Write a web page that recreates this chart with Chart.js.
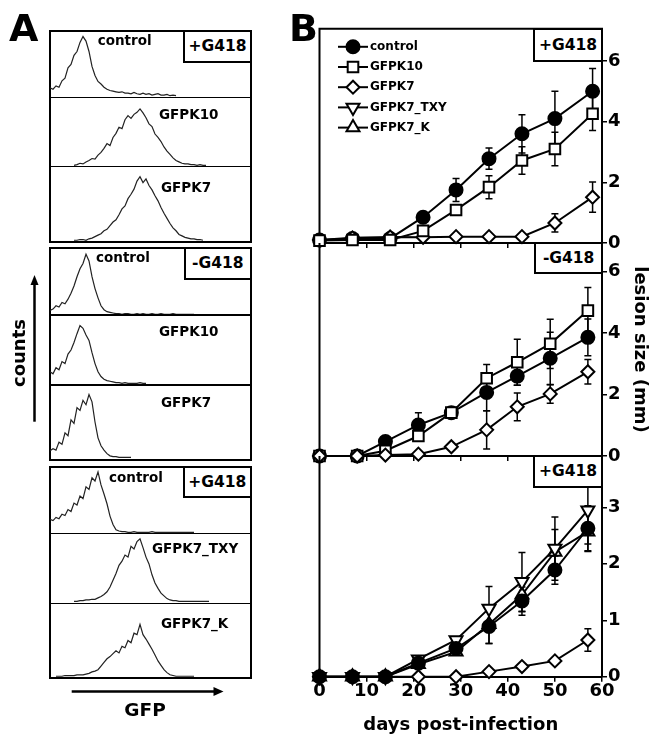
<!DOCTYPE html>
<html>
<head>
<meta charset="utf-8">
<title>GFP expression and lesion size</title>
<script src="https://cdn.jsdelivr.net/npm/chart.js@4.4.1/dist/chart.umd.min.js"></script>
<style>
  body { margin: 0; background: #fff; }
  #fig { position: relative; width: 650px; height: 736px; overflow: hidden; background: #fff;
         font-family: 'DejaVu Sans', sans-serif; font-weight: bold; color: #000; }
  #fig canvas { position: absolute; }
  .group { position: absolute; left: 49px; width: 203px; border: 2px solid #000; box-sizing: border-box; }
  .rule { position: absolute; left: 50px; width: 201px; height: 1.6px; background: #000; }
  .tag { position: absolute; box-sizing: border-box; border: 2px solid #000; background: #fff;
         display: flex; align-items: center; justify-content: center; font-size: 15.5px; }
  .txt { position: absolute; white-space: nowrap; line-height: 1; transform: translateY(-50%); }
  .hl { font-size: 13.5px; }
</style>
</head>
<body>
<div id="fig">
  <!-- Panel A : flow histograms -->
  <div class="group" style="top:29.5px;height:213px"></div>
  <div class="group" style="top:246.7px;height:214px"></div>
  <div class="group" style="top:466px;height:213px"></div>

  <canvas id="h11" width="201" height="65" style="left:50px;top:31.5px"></canvas>
  <canvas id="h12" width="201" height="68" style="left:50px;top:98px"></canvas>
  <canvas id="h13" width="201" height="73" style="left:50px;top:167.5px"></canvas>
  <canvas id="h21" width="201" height="66" style="left:50px;top:248.7px"></canvas>
  <canvas id="h22" width="201" height="68" style="left:50px;top:316px"></canvas>
  <canvas id="h23" width="201" height="72" style="left:50px;top:386px"></canvas>
  <canvas id="h31" width="201" height="65" style="left:50px;top:468px"></canvas>
  <canvas id="h32" width="201" height="68" style="left:50px;top:534.3px"></canvas>
  <canvas id="h33" width="201" height="73" style="left:50px;top:604.3px"></canvas>

  <div class="rule" style="top:96.5px"></div>
  <div class="rule" style="top:165.9px"></div>
  <div class="rule" style="top:314.2px"></div>
  <div class="rule" style="top:384.2px"></div>
  <div class="rule" style="top:532.5px"></div>
  <div class="rule" style="top:602.5px"></div>

  <div class="tag" style="left:183px;top:29.5px;width:69px;height:33px">+G418</div>
  <div class="tag" style="left:183.7px;top:246.7px;width:68.3px;height:33px">-G418</div>
  <div class="tag" style="left:182.7px;top:466px;width:69.3px;height:31.5px">+G418</div>

  <div class="txt hl" style="left:97.7px;top:41px">control</div>
  <div class="txt hl" style="left:159px;top:115.3px">GFPK10</div>
  <div class="txt hl" style="left:161px;top:187.7px">GFPK7</div>
  <div class="txt hl" style="left:96px;top:258px">control</div>
  <div class="txt hl" style="left:159px;top:332px">GFPK10</div>
  <div class="txt hl" style="left:161px;top:403px">GFPK7</div>
  <div class="txt hl" style="left:109px;top:478px">control</div>
  <div class="txt hl" style="left:152px;top:549px">GFPK7_TXY</div>
  <div class="txt hl" style="left:161px;top:623.7px">GFPK7_K</div>

  <svg style="position:absolute;left:0;top:0" width="650" height="736">
    <line x1="34.5" y1="421.7" x2="34.5" y2="283" stroke="#000" stroke-width="2.5"/>
    <polygon points="34.5,275 30.5,285 38.5,285" fill="#000"/>
    <line x1="71.7" y1="691.5" x2="215" y2="691.5" stroke="#000" stroke-width="2.5"/>
    <polygon points="223.5,691.5 213.5,687 213.5,696" fill="#000"/>
  </svg>
  <div class="txt" style="left:18.5px;top:352.7px;font-size:18px;transform:translate(-50%,-50%) rotate(-90deg)">counts</div>
  <div class="txt" style="left:145px;top:710px;font-size:18.5px;transform:translate(-50%,-50%)">GFP</div>
  <div class="txt" style="left:9px;top:28px;font-size:38px">A</div>

  <!-- Panel B : lesion size -->
  <canvas id="lesTop" width="350" height="255" style="left:300px;top:0"></canvas>
  <canvas id="lesMid" width="350" height="240" style="left:300px;top:228px"></canvas>
  <canvas id="lesBot" width="350" height="295" style="left:300px;top:441px"></canvas>

  <div class="tag" style="left:533.3px;top:27.8px;width:69.7px;height:34.2px">+G418</div>
  <div class="tag" style="left:534.3px;top:242px;width:68.7px;height:32.3px">-G418</div>
  <div class="tag" style="left:533.3px;top:455px;width:69.7px;height:32.7px">+G418</div>
  <div class="txt" style="left:289px;top:27.5px;font-size:38px">B</div>
</div>

<script>
// ── Panel A: GFP histograms (counts, % of panel height, one bin per 3 px) ──
const g1Control = [14,12,17,15,25,29,45,50,64,70,84,93,86,70,47,33,24,20,15,12,10,9,8,7,8,6,6,5,7,5,4,6,4,5,3,4,5,3,3,4,2,3,2];
const g1K10 = [null,null,null,null,null,null,null,null,1,2,4,3,6,8,11,10,16,20,26,33,30,42,48,57,55,68,74,70,76,79,84,78,71,62,58,47,42,36,28,22,17,12,8,6,4,3,3,2,2,1,2,1,1];
const g1K7 = [null,null,null,null,null,null,null,null,1,1,2,2,1,3,4,6,8,10,14,16,21,26,29,36,44,48,58,64,71,82,88,80,85,76,70,62,55,46,38,31,24,18,14,9,7,5,4,3,3,2,2,1];
const g2Control = [7,9,14,12,19,17,24,33,44,58,70,78,92,82,58,40,26,14,8,5,4,3,2,2,1,2,2,1,1,2,1,2,1,1,2,1,1,2,1,1,1,2,1,1,1,1,1,1,1];
const g2K10 = [18,15,24,21,33,30,44,50,61,74,86,82,72,64,46,30,18,11,7,5,4,3,2,2,1,2,1,1,1,1,2,1,1];
const g2K7 = [10,13,11,22,19,35,31,53,48,70,66,80,74,88,78,50,28,17,11,6,3,2,2,1,1,1,1,1];
const g3Control = [21,19,24,22,29,27,36,33,46,43,57,53,71,67,85,80,94,74,60,45,26,13,5,3,2,2,1,1,2,1,1,1,1,1,2,1,1,1,1,1,1,1,1,1,1,1,1,1,1];
const g3Txy = [null,null,null,null,null,null,null,null,1,1,2,2,3,3,4,4,6,8,11,15,22,32,42,54,60,69,66,82,78,89,93,80,66,56,40,28,20,13,9,5,3,2,2,1,1,1,1,1,1,1,1,1,1,1];
const g3K = [null,null,1,1,1,2,2,2,2,3,3,3,4,5,7,8,10,15,20,25,28,32,36,33,42,40,50,47,60,58,72,58,52,45,38,30,22,16,10,6,3,2,1,1,1,1,1,1,1];
const gfpBins = Array.from({ length: 68 }, (_, i) => i);

// ── Panel B: lesion size (mm) vs days post-infection ──
const daysTop = [0, 7, 15, 22, 29, 36, 43, 50, 58];
const ctrlTop = [0.1, 0.15, 0.15, 0.85, 1.75, 2.78, 3.6, 4.1, 5.0];
const ctrlTopErr = [0, 0, 0, 0.15, 0.38, 0.35, 0.63, 0.9, 0.75];
const k10Top = [0.08, 0.1, 0.1, 0.4, 1.09, 1.84, 2.72, 3.1, 4.26];
const k10TopErr = [0, 0, 0, 0.1, 0.1, 0.38, 0.45, 0.55, 0.55];
const k7Top = [0.1, 0.17, 0.2, 0.19, 0.21, 0.21, 0.21, 0.66, 1.51];
const k7TopErr = [0, 0, 0, 0, 0, 0, 0, 0.3, 0.5];

const daysMid = [0, 8, 14, 21, 28, 35.5, 42, 49, 57];
const ctrlMid = [0, 0, 0.47, 1.01, 1.41, 2.07, 2.6, 3.18, 3.86];
const ctrlMidErr = [0, 0, 0.1, 0.4, 0.15, 0.6, 0.3, 0.85, 0.6];
const k10Mid = [0, 0, 0.17, 0.65, 1.41, 2.53, 3.05, 3.65, 4.73];
const k10MidErr = [0, 0, 0, 0.1, 0.1, 0.45, 0.75, 0.8, 0.75];
const k7Mid = [0, 0, 0.03, 0.06, 0.3, 0.85, 1.6, 2.02, 2.74];
const k7MidErr = [0, 0, 0, 0, 0.05, 0.62, 0.45, 0.3, 0.4];

const daysBot = [0, 7, 14, 21, 29, 36, 43, 50, 57];
const ctrlBot = [0, 0, 0, 0.24, 0.5, 0.89, 1.34, 1.89, 2.63];
const ctrlBotErr = [0, 0, 0, 0.05, 0.05, 0.3, 0.25, 0.25, 0.4];
const k7Bot = [0, 0, 0, 0, 0, 0.09, 0.18, 0.28, 0.65];
const k7BotErr = [0, 0, 0, 0, 0, 0, 0, 0, 0.2];
const txyBot = [0, 0, 0, 0.31, 0.65, 1.21, 1.68, 2.27, 2.95];
const txyBotErr = [0, 0, 0, 0.05, 0.05, 0.39, 0.52, 0.56, 0.6];
const kBot = [0, 0, 0, 0.22, 0.44, 0.93, 1.45, 2.21, 2.57];
const kBotErr = [0, 0, 0, 0.05, 0.05, 0.34, 0.3, 0.4, 0.35];

const LEGEND_ITEMS = ['control', 'GFPK10', 'GFPK7', 'GFPK7_TXY', 'GFPK7_K'];
const FONT = "'DejaVu Sans', sans-serif";

const MARKERS = {
    control:   { pointStyle: 'circle',   radius: 6.5, rotation: 0,   fill: '#000' },
    GFPK10:    { pointStyle: 'rect',     radius: 7.5, rotation: 0,   fill: '#fff' },
    GFPK7:     { pointStyle: 'rectRot',  radius: 6.5, rotation: 0,   fill: '#fff' },
    GFPK7_TXY: { pointStyle: 'triangle', radius: 7.5, rotation: 180, fill: '#fff' },
    GFPK7_K:   { pointStyle: 'triangle', radius: 7.5, rotation: 0,   fill: '#fff' }
};

// ── Histograms ──
function histogram(id, counts) {
    new Chart(document.getElementById(id), {
        type: 'line',
        data: {
            labels: gfpBins,
            datasets: [{ data: counts, borderColor: '#222', borderWidth: 1.2, pointRadius: 0, tension: 0 }]
        },
        options: {
            responsive: false, animation: false, devicePixelRatio: 1,
            layout: { padding: 0 },
            plugins: { legend: { display: false }, tooltip: { enabled: false } },
            scales: {
                x: { display: false, offset: false },
                y: { display: false, min: 0, max: 100 }
            }
        }
    });
}

histogram('h11', g1Control); histogram('h12', g1K10); histogram('h13', g1K7);
histogram('h21', g2Control); histogram('h22', g2K10); histogram('h23', g2K7);
histogram('h31', g3Control); histogram('h32', g3Txy); histogram('h33', g3K);

// ── Plugins for the lesion panels ──
const frame = {
    id: 'frame',
    beforeDatasetsDraw(chart, args, opts) {
        const { ctx, chartArea: a } = chart;
        ctx.save();
        ctx.strokeStyle = '#000'; ctx.lineWidth = 2;
        ctx.beginPath();
        ctx.moveTo(a.left, a.bottom); ctx.lineTo(a.left, a.top);
        if (opts.top) ctx.lineTo(a.right + 1, a.top);
        ctx.stroke();
        ctx.restore();
    }
};

const errorBars = {
    id: 'errorBars',
    beforeDatasetsDraw(chart) {
        const { ctx, scales: { x, y } } = chart;
        ctx.save();
        ctx.strokeStyle = '#000'; ctx.lineWidth = 1.5;
        chart.data.datasets.forEach(ds => {
            (ds.errors || []).forEach((e, i) => {
                if (!e) return;
                const p = ds.data[i];
                const px = x.getPixelForValue(p.x);
                const hi = y.getPixelForValue(p.y + e);
                const lo = y.getPixelForValue(p.y - e);
                ctx.beginPath();
                ctx.moveTo(px, lo); ctx.lineTo(px, hi);
                ctx.moveTo(px - 3.5, hi); ctx.lineTo(px + 3.5, hi);
                ctx.moveTo(px - 3.5, lo); ctx.lineTo(px + 3.5, lo);
                ctx.stroke();
            });
        });
        ctx.restore();
    }
};

const insetLegend = {
    id: 'insetLegend',
    afterDraw(chart, args, opts) {
        if (!opts.items) return;
        const { ctx, chartArea: a } = chart;
        ctx.save();
        opts.items.forEach((name, i) => {
            const m = MARKERS[name];
            const y = a.top + 18 + i * 20.2;
            const x0 = a.left + 18.5;
            ctx.strokeStyle = '#000'; ctx.lineWidth = 2;
            ctx.beginPath(); ctx.moveTo(x0, y); ctx.lineTo(x0 + 30, y); ctx.stroke();
            ctx.fillStyle = m.fill;
            Chart.helpers.drawPoint(ctx, { pointStyle: m.pointStyle, radius: m.radius, rotation: m.rotation, borderWidth: 2 }, x0 + 15, y);
            ctx.fillStyle = '#000';
            ctx.font = 'bold 12px ' + FONT;
            ctx.textBaseline = 'middle';
            ctx.fillText(name, x0 + 32, y);
        });
        ctx.restore();
    }
};

// ── Lesion panels ──
function lesionPanel(p) {
    const tickFont = { family: FONT, size: 18, weight: 'bold', lineHeight: 1 };
    const titleFont = { family: FONT, size: 18, weight: 'bold' };
    const axisGrid = { drawOnChartArea: false, drawTicks: true, tickLength: 5, color: '#000', lineWidth: 1.5 };
    new Chart(document.getElementById(p.canvas), {
        type: 'line',
        data: {
            datasets: p.series.map(s => {
                const m = MARKERS[s.name];
                return {
                    label: s.name,
                    data: p.days.map((d, i) => ({ x: d, y: s.values[i] })),
                    errors: s.errors,
                    order: s.order,
                    borderColor: '#000', borderWidth: 2, tension: 0, clip: false,
                    pointStyle: m.pointStyle, pointRadius: m.radius, pointHoverRadius: m.radius,
                    pointRotation: m.rotation, pointBackgroundColor: m.fill,
                    pointBorderColor: '#000', pointBorderWidth: 2
                };
            })
        },
        options: {
            responsive: false, animation: false, devicePixelRatio: 1,
            layout: { padding: { left: 19.5, top: p.padTop, right: 0, bottom: 0 } },
            plugins: {
                legend: { display: false }, tooltip: { enabled: false },
                frame: { top: p.topLine },
                insetLegend: { items: p.legend }
            },
            scales: {
                x: {
                    type: 'linear', min: 0, max: 60,
                    ticks: { stepSize: 10, display: p.xLabels, font: tickFont, color: '#000', padding: 1, maxRotation: 0 },
                    grid: axisGrid,
                    border: { color: '#000', width: 2 },
                    title: { display: p.xLabels, text: 'days post-infection', font: titleFont, color: '#000', padding: 0 },
                    afterFit: s => { s.height = p.xHeight; }
                },
                y: {
                    position: 'right', min: 0, max: p.yMax,
                    ticks: { stepSize: p.yStep, includeBounds: false, font: tickFont, color: '#000', padding: 1 },
                    grid: axisGrid,
                    border: { color: '#000', width: 2 },
                    title: { display: !!p.yTitle, text: p.yTitle, font: titleFont, color: '#000', padding: 0 },
                    afterFit: s => { s.width = 48; }
                }
            }
        },
        plugins: [frame, errorBars, insetLegend]
    });
}

lesionPanel({
    canvas: 'lesTop', days: daysTop, yMax: 7.06, yStep: 2, padTop: 28.8, xHeight: 12,
    topLine: true, xLabels: false, yTitle: '', legend: LEGEND_ITEMS,
    series: [
        { name: 'control', values: ctrlTop, errors: ctrlTopErr, order: 2 },
        { name: 'GFPK10', values: k10Top, errors: k10TopErr, order: 0 },
        { name: 'GFPK7', values: k7Top, errors: k7TopErr, order: 1 }
    ]
});

lesionPanel({
    canvas: 'lesMid', days: daysMid, yMax: 6.93, yStep: 2, padTop: 15, xHeight: 12,
    topLine: false, xLabels: false, yTitle: 'lesion size (mm)', legend: null,
    series: [
        { name: 'control', values: ctrlMid, errors: ctrlMidErr, order: 2 },
        { name: 'GFPK10', values: k10Mid, errors: k10MidErr, order: 1 },
        { name: 'GFPK7', values: k7Mid, errors: k7MidErr, order: 0 }
    ]
});

lesionPanel({
    canvas: 'lesBot', days: daysBot, yMax: 3.91, yStep: 1, padTop: 15, xHeight: 59.3,
    topLine: false, xLabels: true, yTitle: '', legend: null,
    series: [
        { name: 'control', values: ctrlBot, errors: ctrlBotErr, order: 0 },
        { name: 'GFPK7', values: k7Bot, errors: k7BotErr, order: 3 },
        { name: 'GFPK7_TXY', values: txyBot, errors: txyBotErr, order: 1 },
        { name: 'GFPK7_K', values: kBot, errors: kBotErr, order: 2 }
    ]
});
</script>
</body>
</html>
